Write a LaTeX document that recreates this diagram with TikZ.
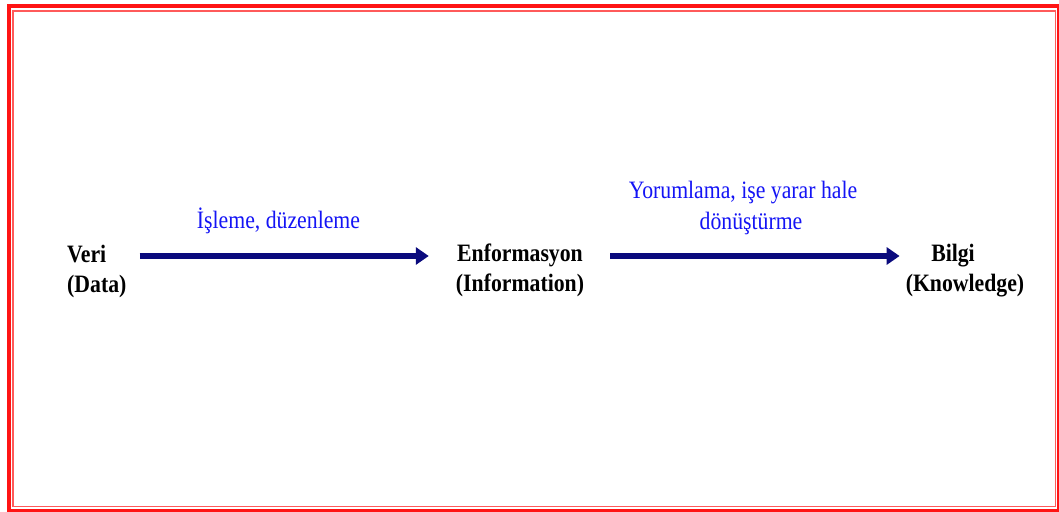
\documentclass[tikz,border=0pt]{standalone}
\usepackage{fontspec}
\usepackage{tikz}
\usetikzlibrary{arrows.meta,positioning,calc}
\newfontfamily\lblfont[FakeStretch=0.87]{Liberation Serif}
\definecolor{FrameRed}{RGB}{255,20,20}
\definecolor{FrameLt}{RGB}{255,90,90}
\definecolor{FlowNavy}{RGB}{10,10,125}
\definecolor{ProcBlue}{RGB}{20,20,245}
\tikzset{
  term/.style={inner sep=0pt,font=\lblfont\bfseries\fontsize{25}{30}\selectfont,text=black},
  proc/.style={inner sep=0pt,font=\lblfont\fontsize{25}{31}\selectfont,text=ProcBlue},
  flow/.style={-{Triangle[length=13pt,width=17pt]},line width=5.5pt,FlowNavy},
}

\begin{document}
\begin{tikzpicture}[x=1pt,y=-1pt]
  \useasboundingbox (0,0) rectangle (1059,511);
  % frame
  \draw[FrameRed,line width=4pt] (9.3,6.5) rectangle (1059,510.7);
  \draw[FrameLt,line width=1.5pt] (13.2,11) rectangle (1055.5,506.7);
  % stages
  \node[term,align=left,anchor=north west] (veri) at (67,245) {Veri\\(Data)};
  \node[term,align=center,anchor=north] (enf) at (520,244) {Enformasyon\\(Information)};
  \node[term,align=center,anchor=north] (bilgi) at (965,244) {Bilgi\hspace*{24pt}\\(Knowledge)};
  % transitions
  \draw[flow] ($(veri.north east)+(13,11)$) -- ($(enf.north west)+(-27,12)$);
  \draw[flow] ($(enf.north east)+(26,12)$) -- ($(bilgi.north west)+(-6,12)$);
  \node[proc,anchor=base] (isleme) at (278.5,228) {İşleme, düzenleme};
  \node[proc,align=center,anchor=north] (yorum) at (743,181) {Yorumlama, işe yarar hale\\\hspace*{16pt}dönüştürme};
\end{tikzpicture}
\end{document}
